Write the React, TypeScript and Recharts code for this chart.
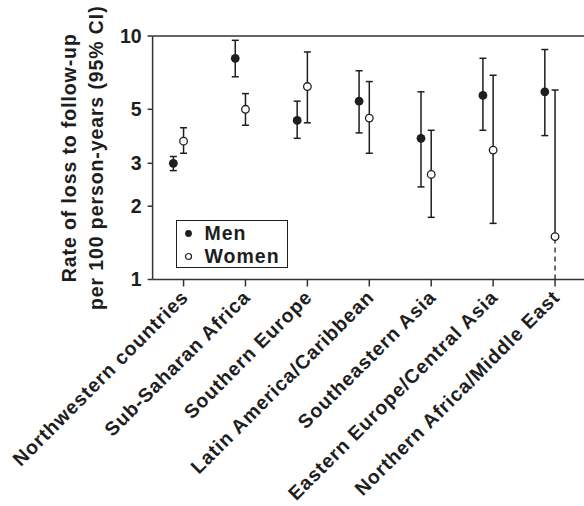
import React from 'react';
import { ScatterChart, Scatter, XAxis, YAxis, ErrorBar, ReferenceLine, Legend } from 'recharts';

const regions = [
  'Northwestern countries',
  'Sub-Saharan Africa',
  'Southern Europe',
  'Latin America/Caribbean',
  'Southeastern Asia',
  'Eastern Europe/Central Asia',
  'Northern Africa/Middle East',
];

// rate of loss to follow-up per 100 person-years, with 95% CI
const menRate = [3.0, 8.1, 4.5, 5.4, 3.8, 5.7, 5.9];
const menLow = [2.8, 6.8, 3.8, 4.0, 2.4, 4.1, 3.9];
const menHigh = [3.2, 9.6, 5.4, 7.2, 5.9, 8.1, 8.8];

const womenRate = [3.7, 5.0, 6.2, 4.6, 2.7, 3.4, 1.5];
const womenLow = [3.3, 4.3, 4.4, 3.3, 1.8, 1.7, 1.0];
const womenHigh = [4.2, 5.8, 8.6, 6.5, 4.1, 6.9, 6.0];
// lower limit runs off the bottom of the axis -> drawn dashed down to 1
const womenLowOffScale = [false, false, false, false, false, false, true];

const yTicks = [1, 2, 3, 5, 10];
const titleLines = ['Rate of loss to follow-up', 'per 100 person-years (95% CI)'];
const legendNames = ['Men', 'Women'];

const MEN_SHIFT = 0.165; // men sit a little left of each category
const FONT = '"Liberation Sans", Arial, Helvetica, sans-serif';
const INK = '#1e1e1e';

const menData = regions.map((r, i) => ({
  x: i - MEN_SHIFT,
  y: menRate[i],
  err: [menRate[i] - menLow[i], menHigh[i] - menRate[i]],
}));

const womenData = regions.map((r, i) => ({
  x: i,
  y: womenRate[i],
  err: [womenLowOffScale[i] ? 0 : womenRate[i] - womenLow[i], womenHigh[i] - womenRate[i]],
}));

const womenTail = regions
  .map((r, i) => ({ x: i, y: womenRate[i], err: [womenRate[i] - womenLow[i], 0], off: womenLowOffScale[i] }))
  .filter((d) => d.off);

const FilledDot = (p: any) => <circle cx={p.cx} cy={p.cy} r={4.4} fill={INK} />;
const OpenDot = (p: any) => (
  <circle cx={p.cx} cy={p.cy} r={3.8} fill="#fff" stroke={INK} strokeWidth={1.3} />
);
const NoDot = () => <g />;

const RegionTick = ({ x, y, payload }: any) => {
  const ax = x + 6;
  const ay = y + 10;
  return (
    <text
      x={ax}
      y={ay}
      transform={`rotate(-45, ${ax}, ${ay})`}
      textAnchor="end"
      fontSize={19.5}
      fontWeight={700}
      letterSpacing={0.9}
      fill={INK}
    >
      {regions[payload.value]}
    </text>
  );
};

const AxisTitle = ({ viewBox }: any) => {
  const cy = viewBox.y + viewBox.height / 2;
  const xs = [76, 103];
  return (
    <g>
      {titleLines.map((t, i) => (
        <text
          key={t}
          x={xs[i]}
          y={cy}
          transform={`rotate(-90, ${xs[i]}, ${cy})`}
          textAnchor="middle"
          fontSize={19.5}
          fontWeight={700}
          letterSpacing={0.9}
          fill={INK}
        >
          {t}
        </text>
      ))}
    </g>
  );
};

const LegendBox = ({ payload }: any) => (
  <div
    style={{
      boxSizing: 'border-box',
      width: 112,
      height: 48,
      border: `1.3px solid ${INK}`,
      paddingTop: 1,
      fontFamily: FONT,
      fontSize: 19.5,
      fontWeight: 700,
      letterSpacing: 1,
      color: INK,
    }}
  >
    {(payload || [])
      .filter((entry: any) => legendNames.includes(entry.value))
      .map((entry: any) => (
        <div key={entry.value} style={{ display: 'flex', alignItems: 'center', height: 23 }}>
          <svg width={28} height={23} style={{ flex: 'none' }}>
            {entry.value === 'Men' ? (
              <circle cx={11.5} cy={11.5} r={3.4} fill={INK} />
            ) : (
              <circle cx={11.5} cy={11.5} r={3} fill="#fff" stroke={INK} strokeWidth={1.2} />
            )}
          </svg>
          <span>{entry.value}</span>
        </div>
      ))}
  </div>
);

export default function App() {
  return (
    <div
      style={{
        position: 'absolute',
        left: 0,
        top: 0,
        width: 584,
        height: 506,
        overflow: 'hidden',
        background: '#fff',
        fontFamily: FONT,
      }}
    >
      <ScatterChart width={600} height={506} margin={{ top: 36, right: 14, bottom: 0, left: 0 }}>
        <XAxis
          type="number"
          dataKey="x"
          domain={[-0.5, 6.5]}
          ticks={[0, 1, 2, 3, 4, 5, 6]}
          allowDataOverflow
          height={226.5}
          tickSize={7}
          tick={<RegionTick />}
          interval={0}
          axisLine={{ stroke: '#333', strokeWidth: 1.5 }}
          tickLine={{ stroke: '#333', strokeWidth: 1.5 }}
        />
        <YAxis
          type="number"
          dataKey="y"
          scale="log"
          domain={[1, 10]}
          ticks={yTicks}
          allowDataOverflow
          width={152.6}
          tickSize={5}
          tickMargin={6}
          tick={{ fontSize: 19.5, fontWeight: 700, fill: INK }}
          axisLine={{ stroke: '#333', strokeWidth: 1.5 }}
          tickLine={{ stroke: '#333', strokeWidth: 1.5 }}
          label={{ content: <AxisTitle /> }}
        />
        <ReferenceLine y={10} stroke="#333" strokeWidth={1.5} />
        <Legend
          layout="vertical"
          align="center"
          verticalAlign="middle"
          content={<LegendBox />}
          wrapperStyle={{ left: 175.5, top: 220, width: 112, height: 48 }}
        />
        <Scatter name="Men" data={menData} shape={FilledDot} fill={INK} isAnimationActive={false}>
          <ErrorBar dataKey="err" direction="y" width={3.5} stroke={INK} strokeWidth={1.5} isAnimationActive={false} />
        </Scatter>
        <Scatter name="tail" data={womenTail} shape={NoDot} legendType="none" isAnimationActive={false}>
          <ErrorBar
            dataKey="err"
            direction="y"
            width={0}
            stroke={INK}
            strokeWidth={1.3}
            strokeDasharray="5 4"
            isAnimationActive={false}
          />
        </Scatter>
        <Scatter name="Women" data={womenData} shape={OpenDot} fill="#fff" isAnimationActive={false}>
          <ErrorBar dataKey="err" direction="y" width={3.5} stroke={INK} strokeWidth={1.5} isAnimationActive={false} />
        </Scatter>
      </ScatterChart>
    </div>
  );
}
